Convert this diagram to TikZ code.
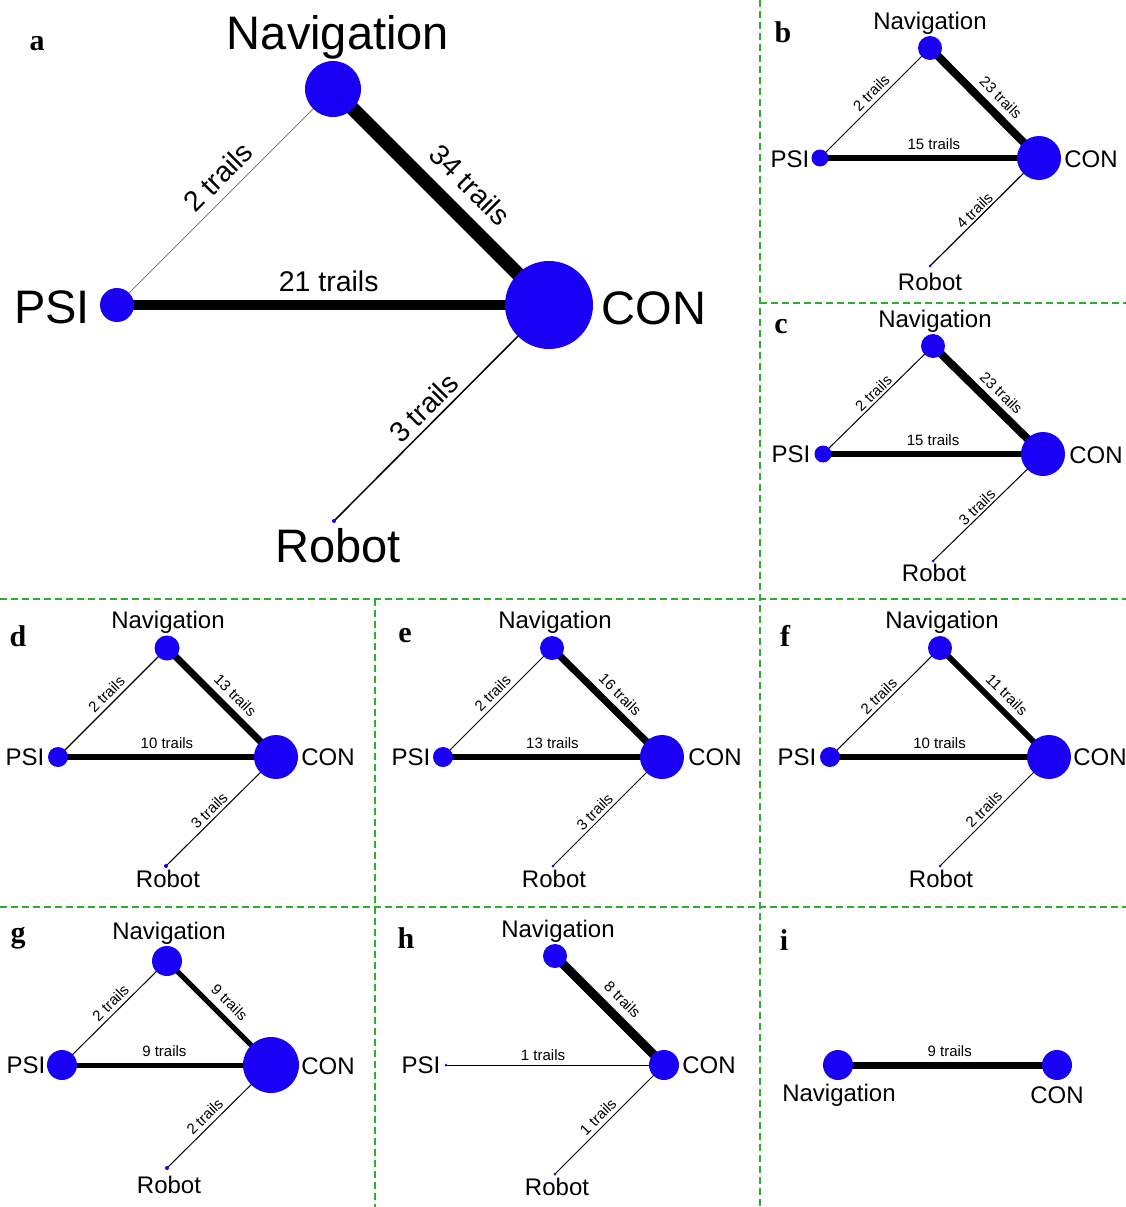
\documentclass[tikz,border=0pt]{standalone}
\usepackage{fontspec}
\setmainfont{Liberation Sans}
\newfontfamily\letterfont{Liberation Serif}
\definecolor{nblue}{RGB}{25,0,245}
\definecolor{dgreen}{RGB}{45,175,45}
\pgfdeclarelayer{bg}
\pgfdeclarelayer{edges}
\pgfsetlayers{bg,edges,main}
\tikzset{
  nd/.style={circle, fill=nblue, inner sep=0pt, minimum size=#1},
  bigname/.style={anchor=base, inner sep=0pt, font=\fontsize{47}{47}\selectfont},
  vname/.style={anchor=base, inner sep=0pt, font=\fontsize{24}{24}\selectfont},
  bigel/.style={sloped, inner sep=0pt, font=\fontsize{28.5}{28.5}\selectfont},
  el/.style={sloped, inner sep=0pt, font=\fontsize{15}{15}\selectfont},
  panel/.style={font=\letterfont\bfseries\fontsize{30}{30}\selectfont, inner sep=0pt},
  sep/.style={draw=dgreen, line width=1.4pt, dash pattern=on 7pt off 4pt},
  ed/.style={line width=#1, draw=black},
}
\begin{document}
\begin{tikzpicture}[x=1pt,y=-1pt]
\begin{pgfonlayer}{bg}
\fill[white] (0,0) rectangle (1126,1207);
\end{pgfonlayer}
\useasboundingbox (0,0) rectangle (1126,1207);
% separators
\draw[sep] (0,599) -- (1126,599);
\draw[sep] (0,907) -- (1126,907);
\draw[sep] (760,303) -- (1126,303);
\draw[sep] (760,0) -- (760,1207);
\draw[sep] (375,599) -- (375,1207);

% ---------- panel a
\node[panel] (la) at (37,44) {a};
\node[nd=56] (aN) at (333,89) {};
\node[nd=34] (aP) at (117,305) {};
\node[nd=88] (aC) at (549,305) {};
\node[nd=4]  (aR) at (334,521) {};
\node[bigname] (aNt) at (338,50) {Navigation};
\node[bigname] (aPt) at (52,323) {PSI};
\node[bigname] (aCt) at (654,324) {CON};
\node[bigname] (aRt) at (338,562) {Robot};
\begin{pgfonlayer}{edges}
\draw[line width=1pt, draw=gray] (aP.center) -- node[bigel, pos=0.53, above=8pt] {2 trails} (aN.center);
\draw[ed=14pt] (aN.center) -- node[bigel, pos=0.54, above=12pt] {34 trails} (aC.center);
\draw[ed=10pt] (aP.center) -- node[bigel, pos=0.49, above=8pt] {21 trails} (aC.center);
\draw[ed=1.5pt] (aR.center) -- node[bigel, pos=0.47, above=5pt] {3 trails} (aC.center);
\end{pgfonlayer}

% ---------- panel b
\node[panel] (lb) at (783,32) {b};
\node[nd=24] (bN) at (930,48) {};
\node[nd=17] (bP) at (820,158) {};
\node[nd=44] (bC) at (1039,158) {};
\node[nd=3]  (bR) at (930,266) {};
\node[vname] (bNt) at (930,30) {Navigation};
\node[vname] (bPt) at (790,167) {PSI};
\node[vname] (bCt) at (1091,167) {CON};
\node[vname] (bRt) at (930,290) {Robot};
\begin{pgfonlayer}{edges}
\draw[ed=1pt] (bP.center) -- node[el, pos=0.53, above=4pt] {2 trails} (bN.center);
\draw[ed=8pt] (bN.center) -- node[el, pos=0.55, above=6pt] {23 trails} (bC.center);
\draw[ed=6pt] (bP.center) -- node[el, pos=0.52, above=5pt] {15 trails} (bC.center);
\draw[ed=1.2pt] (bR.center) -- node[el, pos=0.46, above=2pt] {4 trails} (bC.center);
\end{pgfonlayer}

% ---------- panel c
\node[panel] (lc) at (781,327) {c};
\node[nd=24] (cN) at (933,346) {};
\node[nd=17] (cP) at (823,454) {};
\node[nd=44] (cC) at (1043,454) {};
\node[nd=3]  (cR) at (933,561) {};
\node[vname] (cNt) at (935,327) {Navigation};
\node[vname] (cPt) at (791,462) {PSI};
\node[vname] (cCt) at (1096,463) {CON};
\node[vname] (cRt) at (934,581) {Robot};
\begin{pgfonlayer}{edges}
\draw[ed=1pt] (cP.center) -- node[el, pos=0.51, above=2pt] {2 trails} (cN.center);
\draw[ed=8pt] (cN.center) -- node[el, pos=0.53, above=5pt] {23 trails} (cC.center);
\draw[ed=6pt] (cP.center) -- node[el, pos=0.5, above=5pt] {15 trails} (cC.center);
\draw[ed=1pt] (cR.center) -- node[el, pos=0.45, above=2pt] {3 trails} (cC.center);
\end{pgfonlayer}

% ---------- panel d
\node[panel] (ld) at (18,636) {d};
\node[nd=25] (dN) at (167,648) {};
\node[nd=20] (dP) at (58,757) {};
\node[nd=44] (dC) at (276,757) {};
\node[nd=4]  (dR) at (166,866) {};
\node[vname] (dNt) at (168,628) {Navigation};
\node[vname] (dPt) at (25,765) {PSI};
\node[vname] (dCt) at (328,765) {CON};
\node[vname] (dRt) at (168,887) {Robot};
\begin{pgfonlayer}{edges}
\draw[ed=1.2pt] (dP.center) -- node[el, pos=0.51, above=4pt] {2 trails} (dN.center);
\draw[ed=7pt] (dN.center) -- node[el, pos=0.53, above=6pt] {13 trails} (dC.center);
\draw[ed=6pt] (dP.center) -- node[el, pos=0.5, above=5pt] {10 trails} (dC.center);
\draw[ed=1pt] (dR.center) -- node[el, pos=0.45, above=3pt] {3 trails} (dC.center);
\end{pgfonlayer}

% ---------- panel e
\node[panel] (le) at (405,636) {e};
\node[nd=24] (eN) at (552,648) {};
\node[nd=20] (eP) at (443,757) {};
\node[nd=44] (eC) at (662,757) {};
\node[nd=3]  (eR) at (553,866) {};
\node[vname] (eNt) at (555,628) {Navigation};
\node[vname] (ePt) at (411,765) {PSI};
\node[vname] (eCt) at (715,765) {CON};
\node[vname] (eRt) at (554,887) {Robot};
\begin{pgfonlayer}{edges}
\draw[ed=1pt] (eP.center) -- node[el, pos=0.52, above=4pt] {2 trails} (eN.center);
\draw[ed=7pt] (eN.center) -- node[el, pos=0.525, above=6pt] {16 trails} (eC.center);
\draw[ed=6.5pt] (eP.center) -- node[el, pos=0.5, above=5pt] {13 trails} (eC.center);
\draw[ed=1pt] (eR.center) -- node[el, pos=0.44, above=3pt] {3 trails} (eC.center);
\end{pgfonlayer}

% ---------- panel f
\node[panel] (lf) at (785,636) {f};
\node[nd=24] (fN) at (940,648) {};
\node[nd=20] (fP) at (830,757) {};
\node[nd=44] (fC) at (1049,757) {};
\node[nd=3]  (fR) at (940,866) {};
\node[vname] (fNt) at (942,628) {Navigation};
\node[vname] (fPt) at (797,765) {PSI};
\node[vname] (fCt) at (1100,765) {CON};
\node[vname] (fRt) at (941,887) {Robot};
\begin{pgfonlayer}{edges}
\draw[ed=1pt] (fP.center) -- node[el, pos=0.5, above=3pt] {2 trails} (fN.center);
\draw[ed=6pt] (fN.center) -- node[el, pos=0.52, above=6pt] {11 trails} (fC.center);
\draw[ed=6pt] (fP.center) -- node[el, pos=0.5, above=5pt] {10 trails} (fC.center);
\draw[ed=1pt] (fR.center) -- node[el, pos=0.46, above=3pt] {2 trails} (fC.center);
\end{pgfonlayer}

% ---------- panel g
\node[panel] (lg) at (18,938) {g};
\node[nd=30] (gN) at (167,961) {};
\node[nd=30] (gP) at (62,1065) {};
\node[nd=56] (gC) at (271,1065) {};
\node[nd=4]  (gR) at (167,1168) {};
\node[vname] (gNt) at (169,939) {Navigation};
\node[vname] (gPt) at (26,1073) {PSI};
\node[vname] (gCt) at (328,1074) {CON};
\node[vname] (gRt) at (169,1193) {Robot};
\begin{pgfonlayer}{edges}
\draw[ed=1pt] (gP.center) -- node[el, pos=0.53, above=4pt] {2 trails} (gN.center);
\draw[ed=5pt] (gN.center) -- node[el, pos=0.5, above=7pt] {9 trails} (gC.center);
\draw[ed=5pt] (gP.center) -- node[el, pos=0.49, above=6pt] {9 trails} (gC.center);
\draw[ed=1pt] (gR.center) -- node[el, pos=0.43, above=4pt] {2 trails} (gC.center);
\end{pgfonlayer}

% ---------- panel h
\node[panel] (lh) at (406,938) {h};
\node[nd=24] (hN) at (555,956) {};
\node[nd=3]  (hP) at (446,1065) {};
\node[nd=30] (hC) at (664,1065) {};
\node[nd=3]  (hR) at (555,1174) {};
\node[vname] (hNt) at (558,937) {Navigation};
\node[vname] (hPt) at (421,1073) {PSI};
\node[vname] (hCt) at (709,1073) {CON};
\node[vname] (hRt) at (557,1195) {Robot};
\begin{pgfonlayer}{edges}
\draw[ed=9pt] (hN.center) -- node[el, pos=0.51, above=7pt] {8 trails} (hC.center);
\draw[ed=1pt] (hP.center) -- node[el, pos=0.445, above=4pt] {1 trails} (hC.center);
\draw[ed=1pt] (hR.center) -- node[el, pos=0.46, above=4pt] {1 trails} (hC.center);
\end{pgfonlayer}

% ---------- panel i
\node[panel] (li) at (784,940) {i};
\node[nd=30] (iN) at (838,1065) {};
\node[nd=30] (iC) at (1057,1065) {};
\node[vname] (iNt) at (839,1101) {Navigation};
\node[vname] (iCt) at (1057,1103) {CON};
\begin{pgfonlayer}{edges}
\draw[ed=7pt] (iN.center) -- node[el, pos=0.51, above=5pt] {9 trails} (iC.center);
\end{pgfonlayer}
\end{tikzpicture}
\end{document}
